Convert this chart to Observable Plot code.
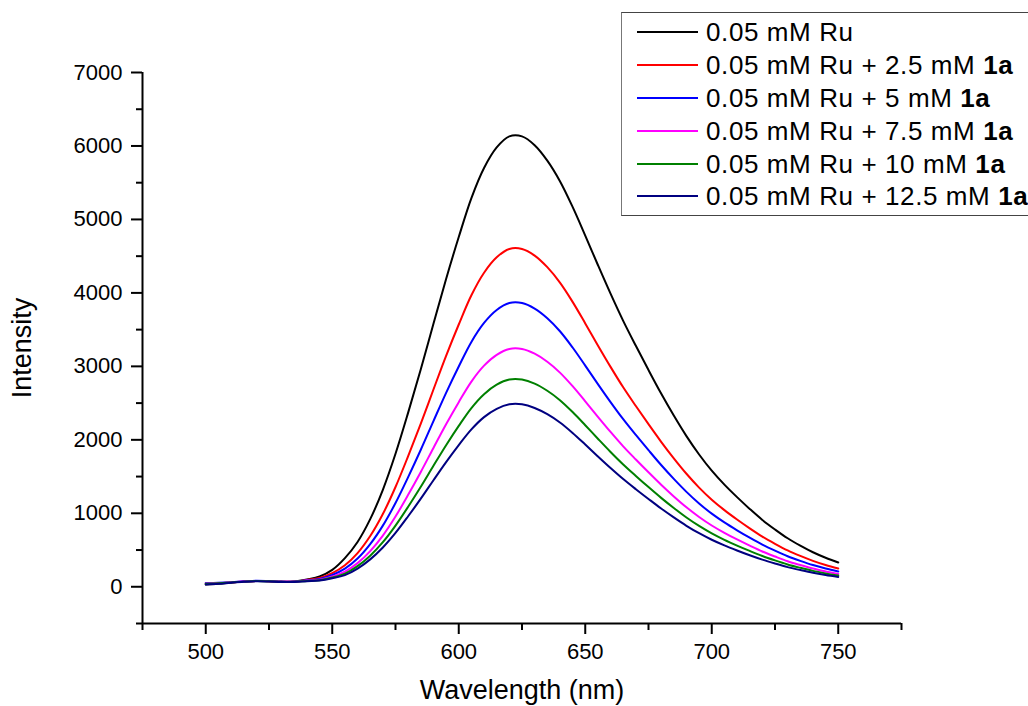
<!DOCTYPE html>
<html>
<head>
<meta charset="utf-8">
<script src="https://cdn.jsdelivr.net/npm/d3@7"></script>
<script src="https://cdn.jsdelivr.net/npm/@observablehq/plot@0.6"></script>
<style>
  html, body { margin: 0; padding: 0; background: white; overflow: hidden; }
  #wrap { position: relative; width: 1028px; height: 706px; overflow: hidden; font-family: Arial, "Liberation Sans", sans-serif; }
  #legend { position: absolute; left: 621px; top: 12px; width: 430px; height: 199px; border: 1px solid #444; border-left-color: #777; background: white; box-sizing: content-box; padding-top: 3px; }
  .row { height: 32.8px; display: flex; align-items: center; }
  .sw { width: 61px; height: 2px; margin-left: 15px; margin-right: 8px; }
  .lab { font-size: 26px; letter-spacing: 0.6px; color: #000; white-space: nowrap; line-height: 1; }
</style>
</head>
<body>
<div id="wrap"><div id="chart"></div><div id="legend"></div></div>
<script>
// Series names and colours
const seriesNames = ["0.05 mM Ru", "0.05 mM Ru + 2.5 mM 1a", "0.05 mM Ru + 5 mM 1a", "0.05 mM Ru + 7.5 mM 1a", "0.05 mM Ru + 10 mM 1a", "0.05 mM Ru + 12.5 mM 1a"];
const legendBase = ["0.05 mM Ru", "0.05 mM Ru + 2.5 mM ", "0.05 mM Ru + 5 mM ", "0.05 mM Ru + 7.5 mM ", "0.05 mM Ru + 10 mM ", "0.05 mM Ru + 12.5 mM "];
const legendBold = ["", "1a", "1a", "1a", "1a", "1a"];
const seriesColors = ["#000000", "#ff0000", "#0000ff", "#ff00ff", "#008000", "#000080"];

// Wavelength grid (nm)
const wavelength = [500,505,510,515,520,525,530,535,540,545,550,555,560,565,570,575,580,585,590,595,600,605,610,615,620,625,630,635,640,645,650,655,660,665,670,675,680,685,690,695,700,705,710,715,720,725,730,735,740,745,750];

// Intensities
const ru0 = [30,40,55,70,78,75,68,72,100,140,230,390,610,920,1320,1810,2370,2960,3580,4190,4760,5290,5700,5980,6130,6130,6010,5800,5520,5170,4780,4380,3990,3620,3280,2950,2630,2330,2050,1800,1580,1390,1220,1060,910,780,660,560,470,395,330];
const ru25 = [45,50,60,72,80,76,70,72,92,120,185,292,458,690,990,1358,1778,2220,2685,3143,3570,3968,4275,4485,4598,4598,4508,4350,4140,3878,3585,3285,2993,2715,2460,2213,1973,1748,1538,1350,1185,1043,915,795,683,585,495,420,353,296,248];
const ru5 = [50,55,63,74,82,77,70,72,88,105,160,246,384,580,832,1140,1493,1865,2255,2640,2999,3333,3591,3767,3862,3862,3786,3655,3478,3257,3011,2759,2514,2281,2066,1859,1657,1468,1292,1134,995,876,769,668,573,491,416,353,296,249,208];
const ru75 = [45,50,60,72,80,75,68,70,84,95,140,206,322,486,697,956,1251,1563,1890,2212,2513,2793,3010,3157,3237,3237,3173,3063,2915,2730,2524,2313,2107,1911,1732,1558,1389,1230,1082,950,834,734,644,560,480,412,348,296,248,209,174];
const ru10 = [40,48,58,70,78,74,67,68,80,90,125,179,281,423,607,833,1090,1362,1647,1927,2190,2433,2622,2751,2820,2820,2765,2668,2540,2378,2199,2015,1835,1665,1509,1357,1210,1072,943,828,727,639,561,488,419,359,304,258,216,182,152];
const ru125 = [30,40,55,68,76,72,65,66,76,85,115,158,247,373,535,733,960,1199,1450,1697,1928,2142,2309,2422,2483,2483,2434,2349,2236,2094,1936,1774,1616,1466,1328,1195,1065,944,830,729,640,563,494,429,369,316,267,227,190,160,134];

// Axis ticks
const xTicks = [500, 550, 600, 650, 700, 750];
const xMinorTicks = [475, 525, 575, 625, 675, 725, 775];
const yTicks = [0, 1000, 2000, 3000, 4000, 5000, 6000, 7000];
const yMinorTicks = [-500, 500, 1500, 2500, 3500, 4500, 5500, 6500];

const allSeries = [ru0, ru25, ru5, ru75, ru10, ru125];
const rows = [];
allSeries.forEach((vals, s) => {
  vals.forEach((v, i) => rows.push({wl: wavelength[i], intensity: v, series: seriesNames[s]}));
});

const font = "Arial, 'Liberation Sans', sans-serif";
const chart = Plot.plot({
  width: 1028,
  height: 706,
  marginLeft: 142,
  marginRight: 127,
  marginTop: 72,
  marginBottom: 83,
  x: {domain: [475, 775]},
  y: {domain: [-500, 7000]},
  color: {domain: seriesNames, range: seriesColors},
  style: {fontFamily: font, fontSize: "22px", background: "white", color: "black", overflow: "visible"},
  marks: [
    Plot.axisX({ticks: xTicks, tickSize: 11, tickPadding: 9, tickFormat: d => String(d), fontSize: 22, strokeWidth: 2, label: null}),
    Plot.axisX({ticks: xMinorTicks, tickSize: 7, tickFormat: () => "", strokeWidth: 2, label: null}),
    Plot.axisY({ticks: yTicks, tickSize: 11, tickPadding: 9, tickFormat: d => String(d), fontSize: 22, strokeWidth: 2, label: null}),
    Plot.axisY({ticks: yMinorTicks, tickSize: 6, tickFormat: () => "", strokeWidth: 2, label: null}),
    Plot.ruleX([475], {strokeWidth: 2}),
    Plot.ruleY([-500], {strokeWidth: 2}),
    Plot.line(rows, {x: "wl", y: "intensity", z: "series", stroke: "series", strokeWidth: 2, curve: "catmull-rom"}),
    Plot.text(["Wavelength (nm)"], {text: d => d, frameAnchor: "bottom", lineAnchor: "middle", textAnchor: "middle", dy: 67, fontSize: 27}),
    Plot.text(["Intensity"], {text: d => d, frameAnchor: "left", lineAnchor: "middle", textAnchor: "middle", dx: -120, rotate: -90, fontSize: 27})
  ]
});
document.getElementById("chart").appendChild(chart);

const legend = document.getElementById("legend");
seriesNames.forEach((name, i) => {
  const row = document.createElement("div");
  row.className = "row";
  const sw = document.createElement("div");
  sw.className = "sw";
  sw.style.background = seriesColors[i];
  const lab = document.createElement("div");
  lab.className = "lab";
  lab.appendChild(document.createTextNode(legendBase[i]));
  if (legendBold[i]) {
    const b = document.createElement("b");
    b.textContent = legendBold[i];
    lab.appendChild(b);
  }
  row.appendChild(sw);
  row.appendChild(lab);
  legend.appendChild(row);
});
</script>
</body>
</html>
